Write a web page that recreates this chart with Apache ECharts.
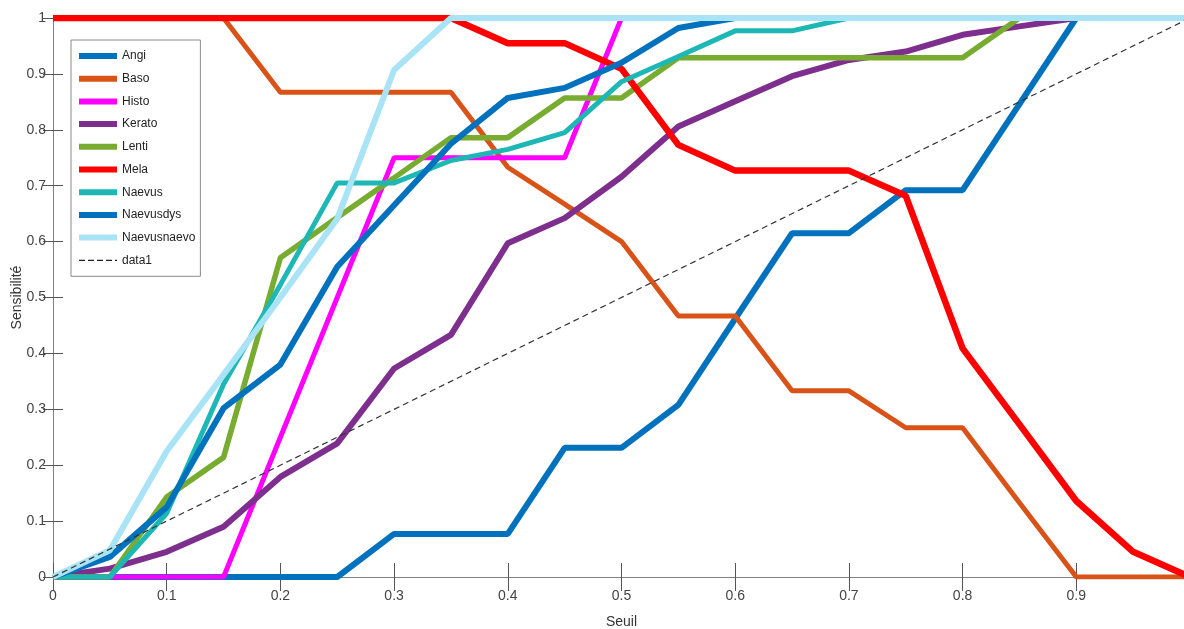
<!DOCTYPE html>
<html>
<head>
<meta charset="utf-8">
<script src="https://cdn.jsdelivr.net/npm/echarts@6/dist/echarts.min.js"></script>
<style>
html,body{margin:0;padding:0;background:#fff;}
#c{width:1184px;height:629px;}
</style>
</head>
<body>
<div id="c"></div>
<script>
const seuil = [0,0.05,0.1,0.15,0.2,0.25,0.3,0.35,0.4,0.45,0.5,0.55,0.6,0.65,0.7,0.75,0.8,0.85,0.9,0.95,1];
const xTicks = [0,0.1,0.2,0.3,0.4,0.5,0.6,0.7,0.8,0.9];
const yTicks = [0,0.1,0.2,0.3,0.4,0.5,0.6,0.7,0.8,0.9,1];

const angi        = [0,0,0,0,0,0,0.077,0.077,0.077,0.231,0.231,0.308,0.462,0.615,0.615,0.692,0.692,0.846,1,1,1];
const baso        = [1,1,1,1,0.867,0.867,0.867,0.867,0.733,0.667,0.6,0.467,0.467,0.333,0.333,0.267,0.267,0.133,0,0,0];
const histo       = [0,0,0,0,0.25,0.5,0.75,0.75,0.75,0.75,1,1,1,1,1,1,1,1,1,1,1];
const kerato      = [0,0.015,0.045,0.09,0.179,0.239,0.373,0.433,0.597,0.642,0.716,0.806,0.851,0.896,0.925,0.94,0.97,0.985,1,1,1];
const lenti       = [0,0,0.143,0.214,0.571,0.643,0.714,0.786,0.786,0.857,0.857,0.929,0.929,0.929,0.929,0.929,0.929,1,1,1,1];
const mela        = [1,1,1,1,1,1,1,1,0.955,0.955,0.909,0.773,0.727,0.727,0.727,0.682,0.409,0.273,0.136,0.045,0];
const naevus      = [0,0,0.114,0.345,0.523,0.705,0.705,0.745,0.765,0.795,0.886,0.931,0.977,0.977,1,1,1,1,1,1,1];
const naevusdys   = [0,0.036,0.125,0.302,0.38,0.555,0.665,0.775,0.857,0.875,0.92,0.982,1,1,1,1,1,1,1,1,1];
const naevusnaevo = [0,0.048,0.225,0.362,0.5,0.641,0.907,1,1,1,1,1,1,1,1,1,1,1,1,1,1];
const data1X = [0,1];
const data1Y = [0,1];

const names  = ['Angi','Baso','Histo','Kerato','Lenti','Mela','Naevus','Naevusdys','Naevusnaevo'];
const values = [angi,baso,histo,kerato,lenti,mela,naevus,naevusdys,naevusnaevo];
const colors = ['#0072BD','#D95319','#FF00FF','#7E2F8E','#77AC30','#FF0000','#1DB7B5','#0072BD','#A9E3F6'];
const widths = [6,5,5,6,5.5,6.5,5,6,6];

const FONT = "'Liberation Sans',Arial,sans-serif";
const SOLID_ICON = 'path://M0,0 M38,14 M0,4h38v6h-38z';
const DASH_ICON  = 'path://M0,0 M38,14 M0,6.4h6v1.2h-6z M9,6.4h6v1.2h-6z M18,6.4h6v1.2h-6z M27,6.4h6v1.2h-6z M36,6.4h2v1.2h-2z';

const series = names.map((n,i)=>({
  name:n, type:'line', symbol:'none', silent:true,
  data: seuil.map((x,j)=>[x, values[i][j]]),
  lineStyle:{color:colors[i], width:widths[i]},
  itemStyle:{color:colors[i]},
  z: 2+i
}));
series.push({
  name:'data1', type:'line', symbol:'none', silent:true,
  data: data1X.map((x,j)=>[x,data1Y[j]]),
  lineStyle:{color:'#333', width:1.2, type:[6,4]},
  itemStyle:{color:'#222'},
  z: 20
});

const legendData = names.map((n,i)=>({name:n, icon:SOLID_ICON, itemStyle:{color:colors[i], borderWidth:0}, lineStyle:{width:0, opacity:0}}))
  .concat([{name:'data1', icon:DASH_ICON, itemStyle:{color:'#222', borderWidth:0}, lineStyle:{width:0, opacity:0}}]);

const chart = echarts.init(document.getElementById('c'));
chart.setOption({
  animation:false,
  backgroundColor:'#fff',
  textStyle:{fontFamily:FONT},
  grid:{left:53, right:-6, top:18, bottom:52, containLabel:false, outerBoundsMode:'none'},
  legend:{
    orient:'vertical', left:71, top:40,
    data:legendData,
    itemWidth:38, itemHeight:14, itemGap:8.7,
    padding:[9,5,9,8],
    backgroundColor:'#fff', borderColor:'#8a8a8a', borderWidth:1,
    textStyle:{fontFamily:FONT, fontSize:12, color:'#222', lineHeight:14},
    selectedMode:false
  },
  xAxis:[{
    type:'value', min:0, max:1, interval:0.1,
    name:'Seuil', nameLocation:'middle', nameGap:38, nameMoveOverlap:false,
    nameTextStyle:{fontFamily:FONT, fontSize:14, color:'#333'},
    axisLine:{show:true, lineStyle:{color:'#808080', width:1}},
    axisTick:{show:true, inside:true, length:14, lineStyle:{color:'#555'}},
    axisLabel:{show:true, showMaxLabel:false, margin:12, fontSize:14, color:'#444', fontFamily:FONT,
      formatter:v=> xTicks.some(t=>Math.abs(t-v)<1e-9) ? String(+v.toFixed(1)) : ''},
    splitLine:{show:false}
  },{
    type:'value', min:0, max:1, interval:0.1, position:'top',
    axisLine:{show:true, lineStyle:{color:'#808080', width:1}},
    axisTick:{show:true, inside:true, length:14, lineStyle:{color:'#555'}},
    axisLabel:{show:false}, splitLine:{show:false}
  }],
  yAxis:[{
    type:'value', min:0, max:1, interval:0.1,
    name:'Sensibilité', nameLocation:'middle', nameGap:29, nameRotate:90, nameMoveOverlap:false,
    nameTextStyle:{fontFamily:FONT, fontSize:14, color:'#333'},
    axisLine:{show:true, lineStyle:{color:'#808080', width:1}},
    axisTick:{show:true, inside:true, length:10, lineStyle:{color:'#555'}},
    axisLabel:{show:true, margin:7, fontSize:14, color:'#444', fontFamily:FONT,
      formatter:v=> yTicks.some(t=>Math.abs(t-v)<1e-9) ? String(+v.toFixed(1)) : ''},
    splitLine:{show:false}
  },{
    type:'value', min:0, max:1, interval:0.1, position:'right',
    axisLine:{show:true, lineStyle:{color:'#808080', width:1}},
    axisTick:{show:true, inside:true, length:10, lineStyle:{color:'#555'}},
    axisLabel:{show:false}, splitLine:{show:false}
  }],
  series: series
});
</script>
</body>
</html>
